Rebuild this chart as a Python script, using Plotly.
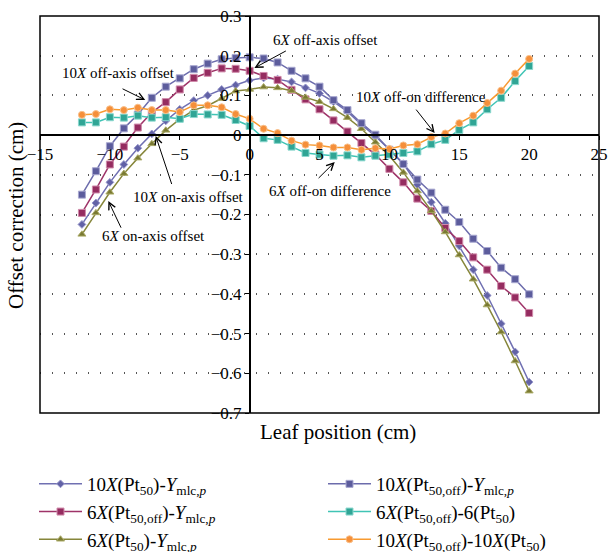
import plotly.graph_objects as go

leaf_pos = list(range(-12, 21))

off10 = [-0.150, -0.091, -0.028, 0.017, 0.052, 0.094, 0.122, 0.143, 0.166, 0.180, 0.191, 0.194,
         0.196, 0.193, 0.183, 0.162, 0.143, 0.122, 0.088, 0.063, 0.030, 0.001, -0.037, -0.073,
         -0.112, -0.145, -0.188, -0.219, -0.261, -0.292, -0.334, -0.363, -0.401]
off6 = [-0.196, -0.137, -0.074, -0.029, 0.019, 0.057, 0.083, 0.115, 0.144, 0.157, 0.168, 0.167,
        0.162, 0.149, 0.139, 0.114, 0.090, 0.065, 0.037, 0.009, -0.020, -0.049, -0.085, -0.119,
        -0.160, -0.191, -0.234, -0.267, -0.308, -0.339, -0.380, -0.409, -0.448]
on10 = [-0.225, -0.171, -0.119, -0.074, -0.033, 0.003, 0.036, 0.065, 0.087, 0.100, 0.115, 0.126,
        0.138, 0.144, 0.141, 0.134, 0.119, 0.105, 0.084, 0.059, 0.026, -0.003, -0.036, -0.072,
        -0.125, -0.169, -0.222, -0.279, -0.339, -0.404, -0.475, -0.546, -0.622]
on6 = [-0.250, -0.196, -0.144, -0.097, -0.058, -0.022, 0.012, 0.040, 0.063, 0.074, 0.092, 0.111,
       0.115, 0.121, 0.119, 0.112, 0.095, 0.084, 0.066, 0.044, 0.016, -0.018, -0.052, -0.094,
       -0.141, -0.191, -0.244, -0.302, -0.363, -0.428, -0.496, -0.569, -0.645]
diff6 = [0.032, 0.032, 0.045, 0.044, 0.049, 0.044, 0.045, 0.041, 0.053, 0.052, 0.051, 0.038,
         0.023, -0.008, -0.012, -0.029, -0.045, -0.049, -0.052, -0.051, -0.056, -0.052, -0.049,
         -0.045, -0.041, -0.023, -0.012, 0.013, 0.032, 0.065, 0.094, 0.136, 0.174]
diff10 = [0.051, 0.053, 0.065, 0.063, 0.069, 0.063, 0.063, 0.058, 0.075, 0.075, 0.070, 0.053,
          0.041, 0.016, 0.005, -0.014, -0.024, -0.026, -0.031, -0.031, -0.037, -0.033, -0.035,
          -0.026, -0.023, -0.005, 0.004, 0.030, 0.049, 0.081, 0.112, 0.155, 0.192]

x_ticks = [-15, -10, -5, 0, 5, 10, 15, 20, 25]
y_ticks = [-0.7, -0.6, -0.5, -0.4, -0.3, -0.2, -0.1, 0, 0.1, 0.2, 0.3]

SERIF = "Liberation Serif"

series = [
    # name, values, line color, marker color, marker border, symbol, size, legend
    ("10<i>X</i>(Pt<sub>50</sub>)-<i>Y</i><sub>mlc,<i>p</i></sub>", on10, "#7070B2", "#6262A6", "#9A9ACC", "diamond", 6, "legend"),
    ("6<i>X</i>(Pt<sub>50,off</sub>)-<i>Y</i><sub>mlc,<i>p</i></sub>", off6, "#9E3368", "#952C60", "#D08AAA", "square", 7, "legend"),
    ("6<i>X</i>(Pt<sub>50</sub>)-<i>Y</i><sub>mlc,<i>p</i></sub>", on6, "#86863A", "#7A7A32", "#A9A965", "triangle-up", 7, "legend"),
    ("10<i>X</i>(Pt<sub>50,off</sub>)-<i>Y</i><sub>mlc,<i>p</i></sub>", off10, "#6C6CAC", "#5C5C9C", "#A8A8D0", "square", 7, "legend2"),
    ("6<i>X</i>(Pt<sub>50,off</sub>)-6(Pt<sub>50</sub>)", diff6, "#40C4B5", "#30A595", "#8AD8CE", "square", 7, "legend2"),
    ("10<i>X</i>(Pt<sub>50,off</sub>)-10<i>X</i>(Pt<sub>50</sub>)", diff10, "#F89A30", "#F58F3A", "#F9C08A", "circle", 7, "legend2"),
]

fig = go.Figure()
for name, vals, lc, mc, mb, sym, sz, leg in series:
    fig.add_trace(go.Scatter(
        x=leaf_pos, y=vals, name=name, mode="lines+markers",
        line=dict(color=lc, width=1.5),
        marker=dict(symbol=sym, size=sz, color=mc, line=dict(color=mb, width=1)),
        legend=leg,
    ))

W, H = 608, 552
L, R, T, B = 40, 9, 16, 139

fig.update_layout(
    width=W, height=H,
    margin=dict(l=L, r=R, t=T, b=B, autoexpand=False),
    paper_bgcolor="white", plot_bgcolor="white",
    font=dict(family=SERIF, color="black", size=17),
    xaxis=dict(
        range=[-15, 25], tickvals=x_ticks, ticktext=[("−" + str(-v)) if v < 0 else str(v) for v in x_ticks],
        anchor="free", position=0.7, showgrid=False, zeroline=False,
        showline=True, linecolor="black", linewidth=1.5,
        ticks="outside", ticklen=4, tickcolor="black", automargin=False,
        tickfont=dict(family=SERIF, size=17, color="black"),
    ),
    yaxis=dict(
        range=[-0.7, 0.3], tickvals=y_ticks,
        ticktext=[("−" + f"{-v:g}") if v < 0 else f"{v:g}" for v in y_ticks],
        anchor="free", position=0.375, zeroline=False,
        showgrid=True, gridcolor="#555555", gridwidth=1.5, griddash="1px,11px",
        showline=True, linecolor="black", linewidth=1.5,
        ticks="outside", ticklen=4, tickcolor="black", automargin=False,
        tickfont=dict(family=SERIF, size=17, color="black"),
    ),
    legend=dict(
        xref="container", yref="container", x=34 / W, y=1 - 465 / H,
        xanchor="left", yanchor="top", bgcolor="rgba(0,0,0,0)",
        font=dict(family=SERIF, size=19, color="black"), itemwidth=43,
    ),
    legend2=dict(
        xref="container", yref="container", x=323 / W, y=1 - 465 / H,
        xanchor="left", yanchor="top", bgcolor="rgba(0,0,0,0)",
        font=dict(family=SERIF, size=19, color="black"), itemwidth=43,
    ),
    shapes=[dict(type="rect", xref="paper", yref="paper", x0=0, x1=1, y0=0, y1=1,
                 line=dict(color="black", width=1.5), layer="above")],
)

ann = []
# axis titles
ann.append(dict(text="Leaf position (cm)", xref="paper", yref="paper",
                x=(338 - L) / (W - L - R), y=-(432 - (H - B)) / (H - T - B),
                showarrow=False, font=dict(family=SERIF, size=21), xanchor="center", yanchor="middle"))
ann.append(dict(text="Offset correction (cm)", xref="paper", yref="paper",
                x=(16 - L) / (W - L - R), y=0.5 - (216 - (T + (H - T - B) / 2)) / (H - T - B),
                textangle=-90, showarrow=False, font=dict(family=SERIF, size=21),
                xanchor="center", yanchor="middle"))

labels = [
    ("10<i>X</i> off-axis offset", (-9.41, 0.156), (-9.20, 0.1185), (-7.47, 0.0885)),
    ("6<i>X</i> off-axis offset", (5.43, 0.239), (2.70, 0.214), (0.34, 0.169)),
    ("10<i>X</i> on-axis offset", (-4.39, -0.155), (-5.54, -0.127), (-6.72, -0.002)),
    ("6<i>X</i> on-axis offset", (-6.90, -0.255), (-9.15, -0.237), (-10.11, -0.166)),
    ("6<i>X</i> off-on difference", (5.78, -0.140), (4.83, -0.112), (6.09, -0.068)),
    ("10<i>X</i> off-on difference", (12.24, 0.096), (11.83, 0.068), (13.24, 0.005)),
]
for txt, (tx, ty), (ax_, ay_), (hx, hy) in labels:
    ann.append(dict(text=txt, x=tx, y=ty, xref="x", yref="y", showarrow=False,
                    font=dict(family=SERIF, size=15, color="black"), bgcolor="rgba(255,255,255,0)"))
    ann.append(dict(text="", x=hx, y=hy, xref="x", yref="y", ax=ax_, ay=ay_, axref="x", ayref="y",
                    showarrow=True, arrowhead=5, arrowsize=1.4, arrowwidth=1, arrowcolor="black"))
fig.update_layout(annotations=ann)

fig.write_html("out.html", config={"displayModeBar": False},
               post_script="document.body.style.margin='0';document.body.style.overflow='hidden';")
